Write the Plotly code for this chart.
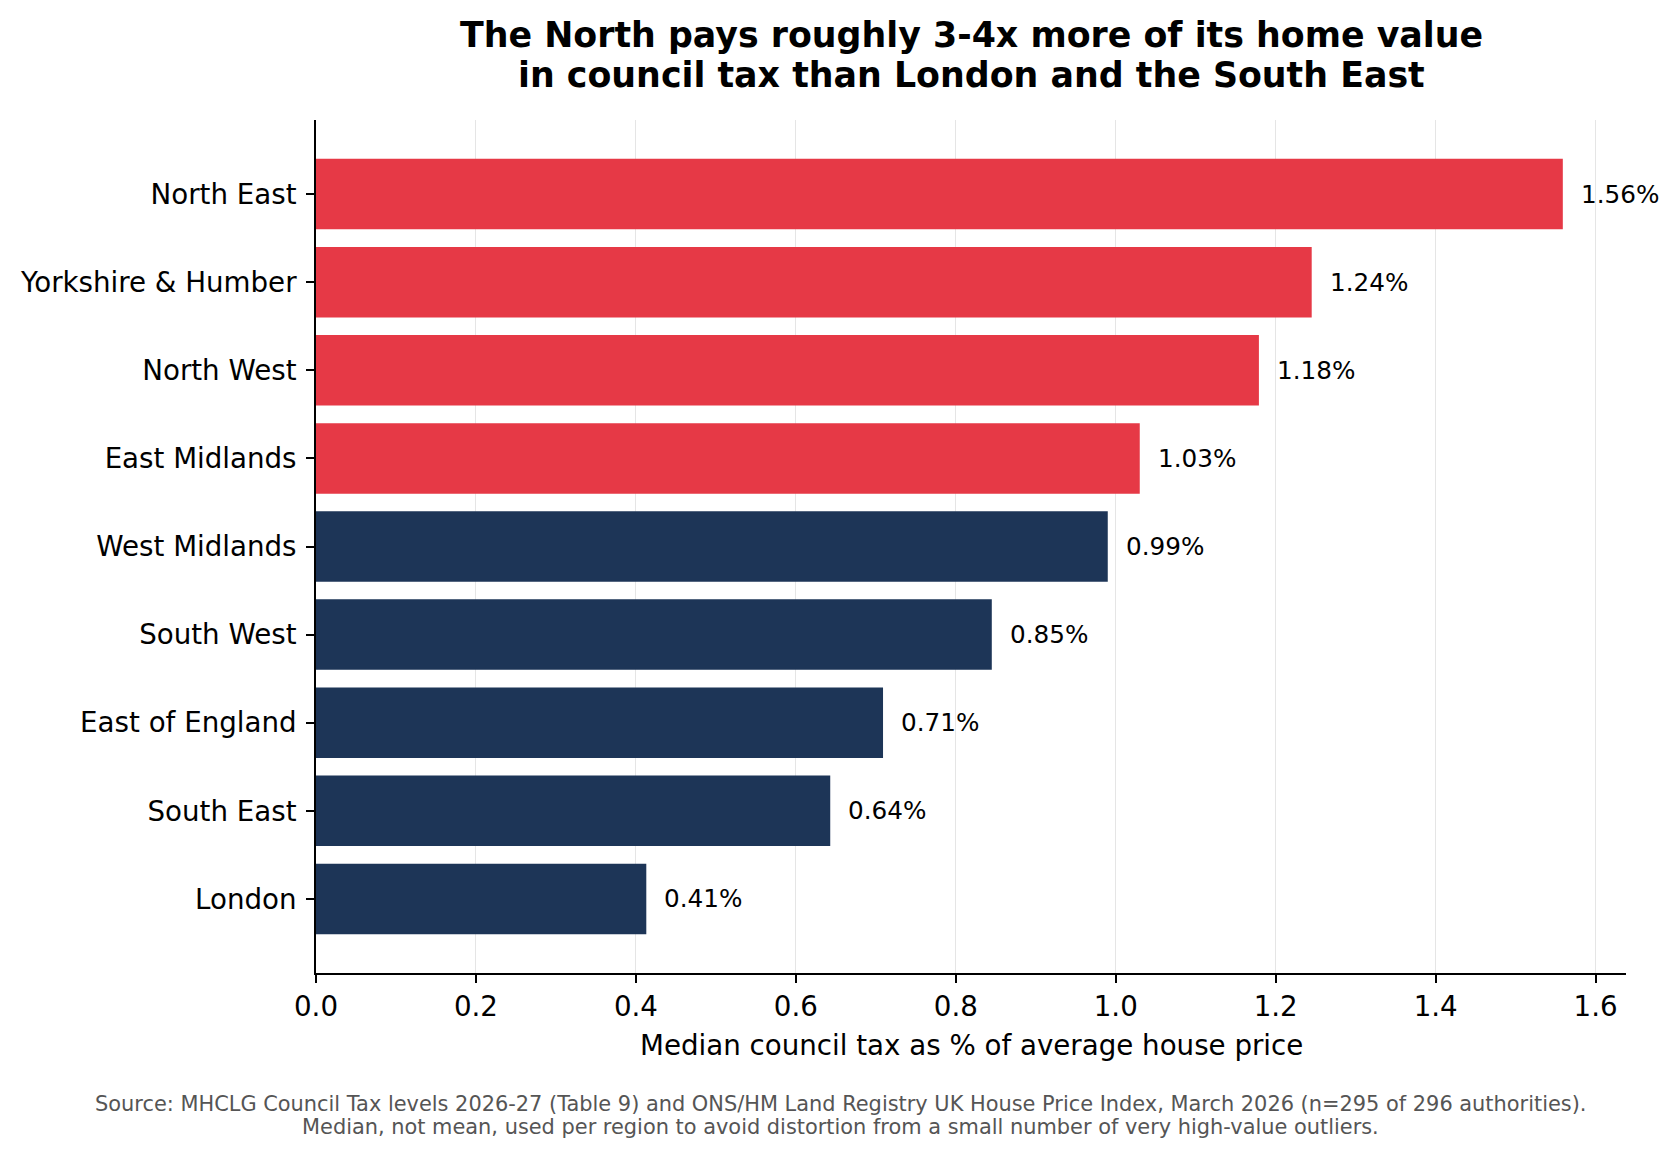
import plotly.graph_objects as go

# Data (top to bottom as displayed)
regions = ["North East", "Yorkshire & Humber", "North West", "East Midlands",
           "West Midlands", "South West", "East of England", "South East", "London"]
values = [1.559, 1.245, 1.179, 1.030, 0.990, 0.845, 0.709, 0.643, 0.413]
value_labels = ["1.56%", "1.24%", "1.18%", "1.03%", "0.99%", "0.85%", "0.71%", "0.64%", "0.41%"]
is_north = [True, True, True, True, False, False, False, False, False]
x_ticks = [0.0, 0.2, 0.4, 0.6, 0.8, 1.0, 1.2, 1.4, 1.6]

title_lines = ["The North pays roughly 3-4x more of its home value",
               "in council tax than London and the South East"]
x_title = "Median council tax as % of average house price"
source_lines = ["Source: MHCLG Council Tax levels 2026-27 (Table 9) and ONS/HM Land Registry UK House Price Index, March 2026 (n=295 of 296 authorities).",
                "Median, not mean, used per region to avoid distortion from a small number of very high-value outliers."]

RED = "#E63946"
NAVY = "#1D3557"
FONT = "DejaVu Sans"

W, H = 1680, 1158
ML, MR, MT, MB = 316, 54, 120, 185
PH = H - MT - MB

colors = [RED if n else NAVY for n in is_north]

fig = go.Figure()
fig.add_trace(go.Bar(
    x=values, y=regions, orientation="h",
    marker=dict(color=colors, line=dict(width=0)),
    width=0.8, hoverinfo="skip",
))

annotations = []
for v, r, t in zip(values, regions, value_labels):
    annotations.append(dict(x=v, y=r, xref="x", yref="y", text=t, showarrow=False,
                            xanchor="left", yanchor="middle", xshift=16,
                            font=dict(family=FONT, size=24.7, color="black")))

title_px = [35, 75]
for line, py in zip(title_lines, title_px):
    annotations.append(dict(x=0.5, y=1 + (MT - py) / PH, xref="paper", yref="paper",
                            text="<b>" + line + "</b>", showarrow=False,
                            xanchor="center", yanchor="middle",
                            font=dict(family=FONT, size=34.8, color="black")))

annotations.append(dict(x=0.5, y=-(1045 - (H - MB)) / PH, xref="paper", yref="paper",
                        text=x_title, showarrow=False, xanchor="center", yanchor="middle",
                        font=dict(family=FONT, size=27.7, color="black")))

src_px = [1104, 1127]
for line, py in zip(source_lines, src_px):
    annotations.append(dict(x=(840 - ML) / (W - ML - MR), y=-(py - (H - MB)) / PH,
                            xref="paper", yref="paper", text=line, showarrow=False,
                            xanchor="center", yanchor="middle",
                            font=dict(family=FONT, size=20.9, color="#555555")))

fig.update_layout(
    width=W, height=H,
    margin=dict(l=ML, r=MR, t=MT, b=MB, pad=0),
    paper_bgcolor="white", plot_bgcolor="white",
    showlegend=False,
    annotations=annotations,
    font=dict(family=FONT, color="black"),
    xaxis=dict(
        range=[0, 1.638], tickvals=x_ticks, ticktext=[f"{t:.1f}" for t in x_ticks],
        showgrid=True, gridcolor="rgba(0,0,0,0.1)", gridwidth=1,
        showline=True, linecolor="black", linewidth=1.8,
        ticks="outside", ticklen=8, tickwidth=1.8, tickcolor="black",
        tickfont=dict(family=FONT, size=27.7, color="black"),
        zeroline=False, layer="above traces", fixedrange=True,
    ),
    yaxis=dict(
        range=[8.84, -0.84], categoryorder="array", categoryarray=regions,
        showgrid=False, showline=True, linecolor="black", linewidth=1.8,
        ticks="outside", ticklen=8, tickwidth=1.8, tickcolor="black",
        tickfont=dict(family=FONT, size=27.7, color="black"),
        ticklabelstandoff=4,
        zeroline=False, layer="above traces", fixedrange=True,
    ),
)

fig.write_html("out.html")
